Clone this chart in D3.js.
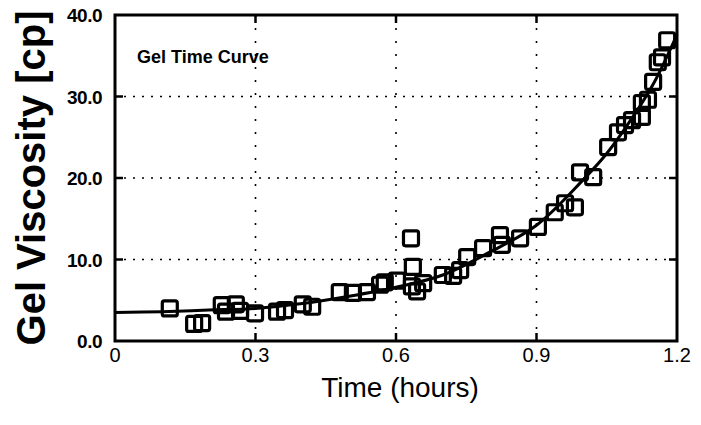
<!DOCTYPE html>
<html>
<head>
<meta charset="utf-8">
<script src="https://cdn.jsdelivr.net/npm/d3@7/dist/d3.min.js"></script>
<style>
body { margin: 0; background: #fff; }
svg { display: block; }
</style>
</head>
<body>
<svg id="chart" width="701" height="425"></svg>
<script>
// measured points (time in hours, viscosity in cp)
var time_pts = [0.117, 0.169, 0.186, 0.228, 0.258, 0.237, 0.267, 0.299, 0.346, 0.363,
    0.401, 0.421, 0.480, 0.508, 0.538, 0.566, 0.576, 0.602, 0.632, 0.636,
    0.645, 0.658, 0.634, 0.700, 0.722, 0.752, 0.737, 0.786, 0.822, 0.826,
    0.865, 0.903, 0.939, 0.961, 0.982, 0.993, 1.021, 1.053, 1.074, 1.089,
    1.104, 1.125, 1.125, 1.138, 1.149, 1.159, 1.168, 1.179];
var visc_pts = [4.0, 2.1, 2.2, 4.4, 4.5, 3.6, 3.7, 3.4, 3.6, 3.8,
    4.5, 4.2, 6.0, 5.9, 6.0, 6.9, 7.2, 7.4, 12.6, 9.1,
    6.1, 7.1, 6.7, 8.1, 8.0, 10.3, 8.7, 11.4, 13.0, 11.8,
    12.6, 14.0, 15.8, 16.9, 16.4, 20.7, 20.1, 23.8, 25.6, 26.5,
    27.1, 27.5, 29.2, 29.6, 31.8, 34.2, 34.8, 36.9];

// fitted curve
var curve_t = [0, 0.1, 0.2, 0.3, 0.4, 0.5, 0.6, 0.7, 0.8, 0.9, 1.0, 1.05, 1.1, 1.15, 1.2];
var curve_v = [3.5, 3.6, 3.8, 4.0, 4.6, 5.5, 6.6, 8.1, 10.9, 14.2, 19.8, 23.0, 27.0, 31.6, 37.6];

var x_ticks = [0, 0.3, 0.6, 0.9, 1.2];
var y_ticks = [0, 10, 20, 30, 40];

var svg = d3.select("#chart");
var pl = 115, pr = 677, pt = 15, pb = 341;
var font = "Liberation Sans, Arial, sans-serif";

var x = d3.scaleLinear().domain([0, 1.2]).range([pl, pr]);
var y = d3.scaleLinear().domain([0, 40]).range([pb, pt]);

// dotted grid
svg.append("g").selectAll("line")
    .data(y_ticks.slice(1, 4))
    .join("line")
    .attr("x1", pl).attr("x2", pr)
    .attr("y1", d => y(d)).attr("y2", d => y(d))
    .attr("stroke", "#000").attr("stroke-width", 1.6)
    .attr("stroke-dasharray", "2,7");

svg.append("g").selectAll("line")
    .data(x_ticks.slice(1, 4))
    .join("line")
    .attr("y1", pt).attr("y2", pb)
    .attr("x1", d => x(d)).attr("x2", d => x(d))
    .attr("stroke", "#000").attr("stroke-width", 1.6)
    .attr("stroke-dasharray", "2,11");

// inward ticks on all four sides
var tick = 8;
svg.append("g").selectAll("line")
    .data(x_ticks.slice(1, 4))
    .join("line")
    .attr("x1", d => x(d)).attr("x2", d => x(d))
    .attr("y1", pb).attr("y2", pb - tick)
    .attr("stroke", "#000").attr("stroke-width", 2.5);
svg.append("g").selectAll("line")
    .data(x_ticks.slice(1, 4))
    .join("line")
    .attr("x1", d => x(d)).attr("x2", d => x(d))
    .attr("y1", pt).attr("y2", pt + tick)
    .attr("stroke", "#000").attr("stroke-width", 2.5);
svg.append("g").selectAll("line")
    .data(y_ticks.slice(1, 4))
    .join("line")
    .attr("x1", pl).attr("x2", pl + tick)
    .attr("y1", d => y(d)).attr("y2", d => y(d))
    .attr("stroke", "#000").attr("stroke-width", 2.5);
svg.append("g").selectAll("line")
    .data(y_ticks.slice(1, 4))
    .join("line")
    .attr("x1", pr).attr("x2", pr - tick)
    .attr("y1", d => y(d)).attr("y2", d => y(d))
    .attr("stroke", "#000").attr("stroke-width", 2.5);

// fit line
var line = d3.line()
    .x(d => x(d[0]))
    .y(d => y(d[1]))
    .curve(d3.curveCatmullRom);
svg.append("path")
    .datum(curve_t.map((t, i) => [t, curve_v[i]]))
    .attr("d", line)
    .attr("fill", "none")
    .attr("stroke", "#000")
    .attr("stroke-width", 3);

// square markers
var sq = 15;
svg.append("g").selectAll("rect")
    .data(time_pts.map((t, i) => [t, visc_pts[i]]))
    .join("rect")
    .attr("x", d => x(d[0]) - sq / 2)
    .attr("y", d => y(d[1]) - sq / 2)
    .attr("width", sq).attr("height", sq)
    .attr("rx", 2)
    .attr("fill", "none")
    .attr("stroke", "#000")
    .attr("stroke-width", 3.2);

// frame
svg.append("rect")
    .attr("x", pl).attr("y", pt)
    .attr("width", pr - pl).attr("height", pb - pt)
    .attr("fill", "none")
    .attr("stroke", "#000")
    .attr("stroke-width", 3);

// tick labels
svg.append("g").selectAll("text")
    .data(x_ticks)
    .join("text")
    .attr("x", d => x(d))
    .attr("y", pb + 21)
    .attr("text-anchor", "middle")
    .style("font-family", font)
    .style("font-size", "20px")
    .text(d => d === 0 ? "0" : d3.format(".1f")(d));

svg.append("g").selectAll("text")
    .data(y_ticks)
    .join("text")
    .attr("x", pl - 13)
    .attr("y", d => y(d) + 7)
    .attr("text-anchor", "end")
    .style("font-family", font)
    .style("font-size", "19px")
    .style("font-weight", "bold")
    .style("letter-spacing", "-0.5px")
    .text(d => d3.format(".1f")(d));

// axis titles
svg.append("text")
    .attr("transform", "translate(45," + ((pt + pb) / 2) + ") rotate(-90)")
    .attr("text-anchor", "middle")
    .style("font-family", font)
    .style("font-size", "40px")
    .style("font-weight", "bold")
    .text("Gel Viscosity [cp]");

svg.append("text")
    .attr("x", 400)
    .attr("y", 397)
    .attr("text-anchor", "middle")
    .style("font-family", font)
    .style("font-size", "28px")
    .text("Time (hours)");

svg.append("text")
    .attr("x", 137)
    .attr("y", 63)
    .style("font-family", font)
    .style("font-size", "18px")
    .style("font-weight", "bold")
    .text("Gel Time Curve");
</script>
</body>
</html>
